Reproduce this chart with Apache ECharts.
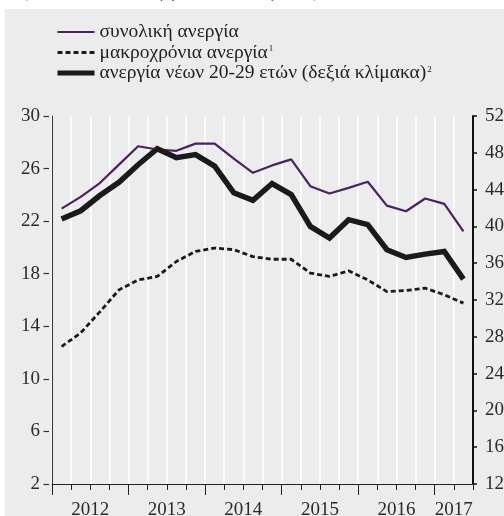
<!DOCTYPE html>
<html>
<head>
<meta charset="utf-8">
<script src="https://cdn.jsdelivr.net/npm/echarts@6/dist/echarts.min.js"></script>
<style>
html,body{margin:0;padding:0;background:#fff;}
#chart{width:504px;height:516px;}
</style>
</head>
<body>
<div id="chart"></div>
<script>
const categories = ['2012Q1','2012Q2','2012Q3','2012Q4','2013Q1','2013Q2','2013Q3','2013Q4',
  '2014Q1','2014Q2','2014Q3','2014Q4','2015Q1','2015Q2','2015Q3','2015Q4',
  '2016Q1','2016Q2','2016Q3','2016Q4','2017Q1','2017Q2'];
const yearLabels = ['2012','2013','2014','2015','2016','2017'];
const seriesNames = ['συνολική ανεργία', 'μακροχρόνια ανεργία', 'ανεργία νέων 20-29 ετών (δεξιά κλίμακα)'];
const legendNotes = ['', '1', '2'];
const totalUnemployment = [22.95, 23.85, 24.9, 26.3, 27.7, 27.45, 27.35, 27.9, 27.9, 26.75, 25.68, 26.24, 26.7, 24.66, 24.1, 24.53, 25.0, 23.18, 22.75, 23.72, 23.31, 21.22];
const longTermUnemployment = [12.45, 13.5, 15.1, 16.77, 17.53, 17.79, 18.93, 19.7, 19.95, 19.83, 19.3, 19.1, 19.1, 18.05, 17.79, 18.22, 17.53, 16.64, 16.72, 16.9, 16.4, 15.76];
const youthUnemployment = [40.8, 41.7, 43.35, 44.8, 46.7, 48.44, 47.46, 47.8, 46.55, 43.65, 42.84, 44.66, 43.46, 40.0, 38.74, 40.73, 40.19, 37.46, 36.62, 36.99, 37.28, 34.27];
const leftTicks = { min: 2, max: 30, interval: 4 };
const rightTicks = { min: 12, max: 52, interval: 4 };
const titleText = '(ποσοστά % του εργατικού δυναμικού)';

// year boundary and centre positions derived from the categories
const yearStarts = [], yearCenters = [];
yearLabels.forEach(y => {
  const idx = categories.map((c, i) => c.startsWith(y) ? i : -1).filter(i => i >= 0);
  yearStarts.push(idx[0]);
  yearCenters.push((idx[0] + idx[idx.length - 1] + 1) / 2);
});

const FONT = '"Liberation Serif", "Times New Roman", serif';
const chart = echarts.init(document.getElementById('chart'), null, { renderer: 'canvas' });

const noteMap = {};
seriesNames.forEach((n, i) => noteMap[n] = legendNotes[i]);

const lineStyles = [
  { color: '#4b2163', width: 2.2 },
  { color: '#1a1a1a', width: 2.8, type: [5, 3] },
  { color: '#1a1a1a', width: 5.5, join: 'miter' }
];

chart.setOption({
  backgroundColor: '#ffffff',
  animation: false,
  graphic: [
    { type: 'rect', left: 5, top: 9, shape: { width: 499, height: 507 }, style: { fill: '#ececec' }, z: -10 },
    { type: 'text', left: 22, top: -17, style: { text: titleText, fill: '#7a4f98', font: '19px ' + FONT }, z: -5 }
  ],
  legend: {
    orient: 'vertical',
    left: 50,
    top: 17,
    itemWidth: 37,
    itemHeight: 14,
    itemGap: 0.5,
    data: seriesNames.map((n, i) => ({ name: n, lineStyle: Object.assign({}, lineStyles[i], { width: i === 2 ? 5 : lineStyles[i].width }) })),
    itemStyle: { opacity: 0 },
    formatter: name => noteMap[name] ? '{t|' + name + '}{s|' + noteMap[name] + '}' : '{t|' + name + '}',
    textStyle: {
      fontFamily: FONT, fontSize: 19.5, color: '#222', lineHeight: 16, padding: [0, 0, 0, 0],
      rich: {
        t: { fontFamily: FONT, fontSize: 19.5, color: '#222', lineHeight: 16 },
        s: { fontFamily: FONT, fontSize: 9, color: '#222', verticalAlign: 'top', lineHeight: 16, padding: [0, 0, 0, 1] }
      }
    }
  },
  grid: { left: 52, right: 31, top: 116, bottom: 32, containLabel: false, outerBoundsMode: 'none' },
  xAxis: [
    {
      type: 'category', data: categories, boundaryGap: true, position: 'bottom',
      axisLine: { show: true, lineStyle: { color: '#222', width: 1 } },
      axisTick: { show: true, interval: 0, length: 6, lineStyle: { color: '#222', width: 1 } },
      axisLabel: { show: false },
      splitLine: { show: true, interval: 0, lineStyle: { color: '#ffffff', width: 1.5 } }
    },
    {
      type: 'value', min: 0, max: categories.length, position: 'bottom',
      axisLine: { show: false },
      axisTick: { show: true, customValues: yearStarts, length: 11, lineStyle: { color: '#222', width: 1 } },
      axisLabel: {
        show: true, customValues: yearCenters, margin: 17,
        fontFamily: FONT, fontSize: 19, color: '#2a2a2a',
        formatter: v => yearLabels[yearCenters.indexOf(v)] || ''
      },
      splitLine: { show: false }
    }
  ],
  yAxis: [
    {
      type: 'value', position: 'left', min: leftTicks.min, max: leftTicks.max, interval: leftTicks.interval,
      axisLine: { show: true, lineStyle: { color: '#333', width: 1 } },
      axisTick: { show: false }, axisLabel: { show: false }, splitLine: { show: false }
    },
    {
      type: 'value', position: 'right', min: rightTicks.min, max: rightTicks.max, interval: rightTicks.interval,
      axisLine: { show: true, lineStyle: { color: '#111', width: 2 } },
      axisTick: { show: true, length: 4, lineStyle: { color: '#111', width: 1.5 } },
      axisLabel: { show: true, margin: 12, fontFamily: FONT, fontSize: 19, color: '#2a2a2a' },
      splitLine: { show: false }
    },
    {
      type: 'value', position: 'left', offset: 3, min: leftTicks.min, max: leftTicks.max, interval: leftTicks.interval,
      axisLine: { show: false },
      axisTick: { show: true, length: 5.5, lineStyle: { color: '#333', width: 1.2 } },
      axisLabel: { show: true, margin: 9, fontFamily: FONT, fontSize: 19, color: '#2a2a2a' },
      splitLine: { show: false }
    }
  ],
  series: [
    {
      name: seriesNames[0], type: 'line', xAxisIndex: 0, yAxisIndex: 0, data: totalUnemployment,
      symbol: 'none', showSymbol: false, z: 3,
      lineStyle: lineStyles[0], itemStyle: { color: lineStyles[0].color }
    },
    {
      name: seriesNames[1], type: 'line', xAxisIndex: 0, yAxisIndex: 0, data: longTermUnemployment,
      symbol: 'none', showSymbol: false, z: 3,
      lineStyle: lineStyles[1], itemStyle: { color: lineStyles[1].color }
    },
    {
      name: seriesNames[2], type: 'line', xAxisIndex: 0, yAxisIndex: 1, data: youthUnemployment,
      symbol: 'none', showSymbol: false, z: 4,
      lineStyle: lineStyles[2], itemStyle: { color: lineStyles[2].color }
    }
  ]
});
</script>
</body>
</html>
